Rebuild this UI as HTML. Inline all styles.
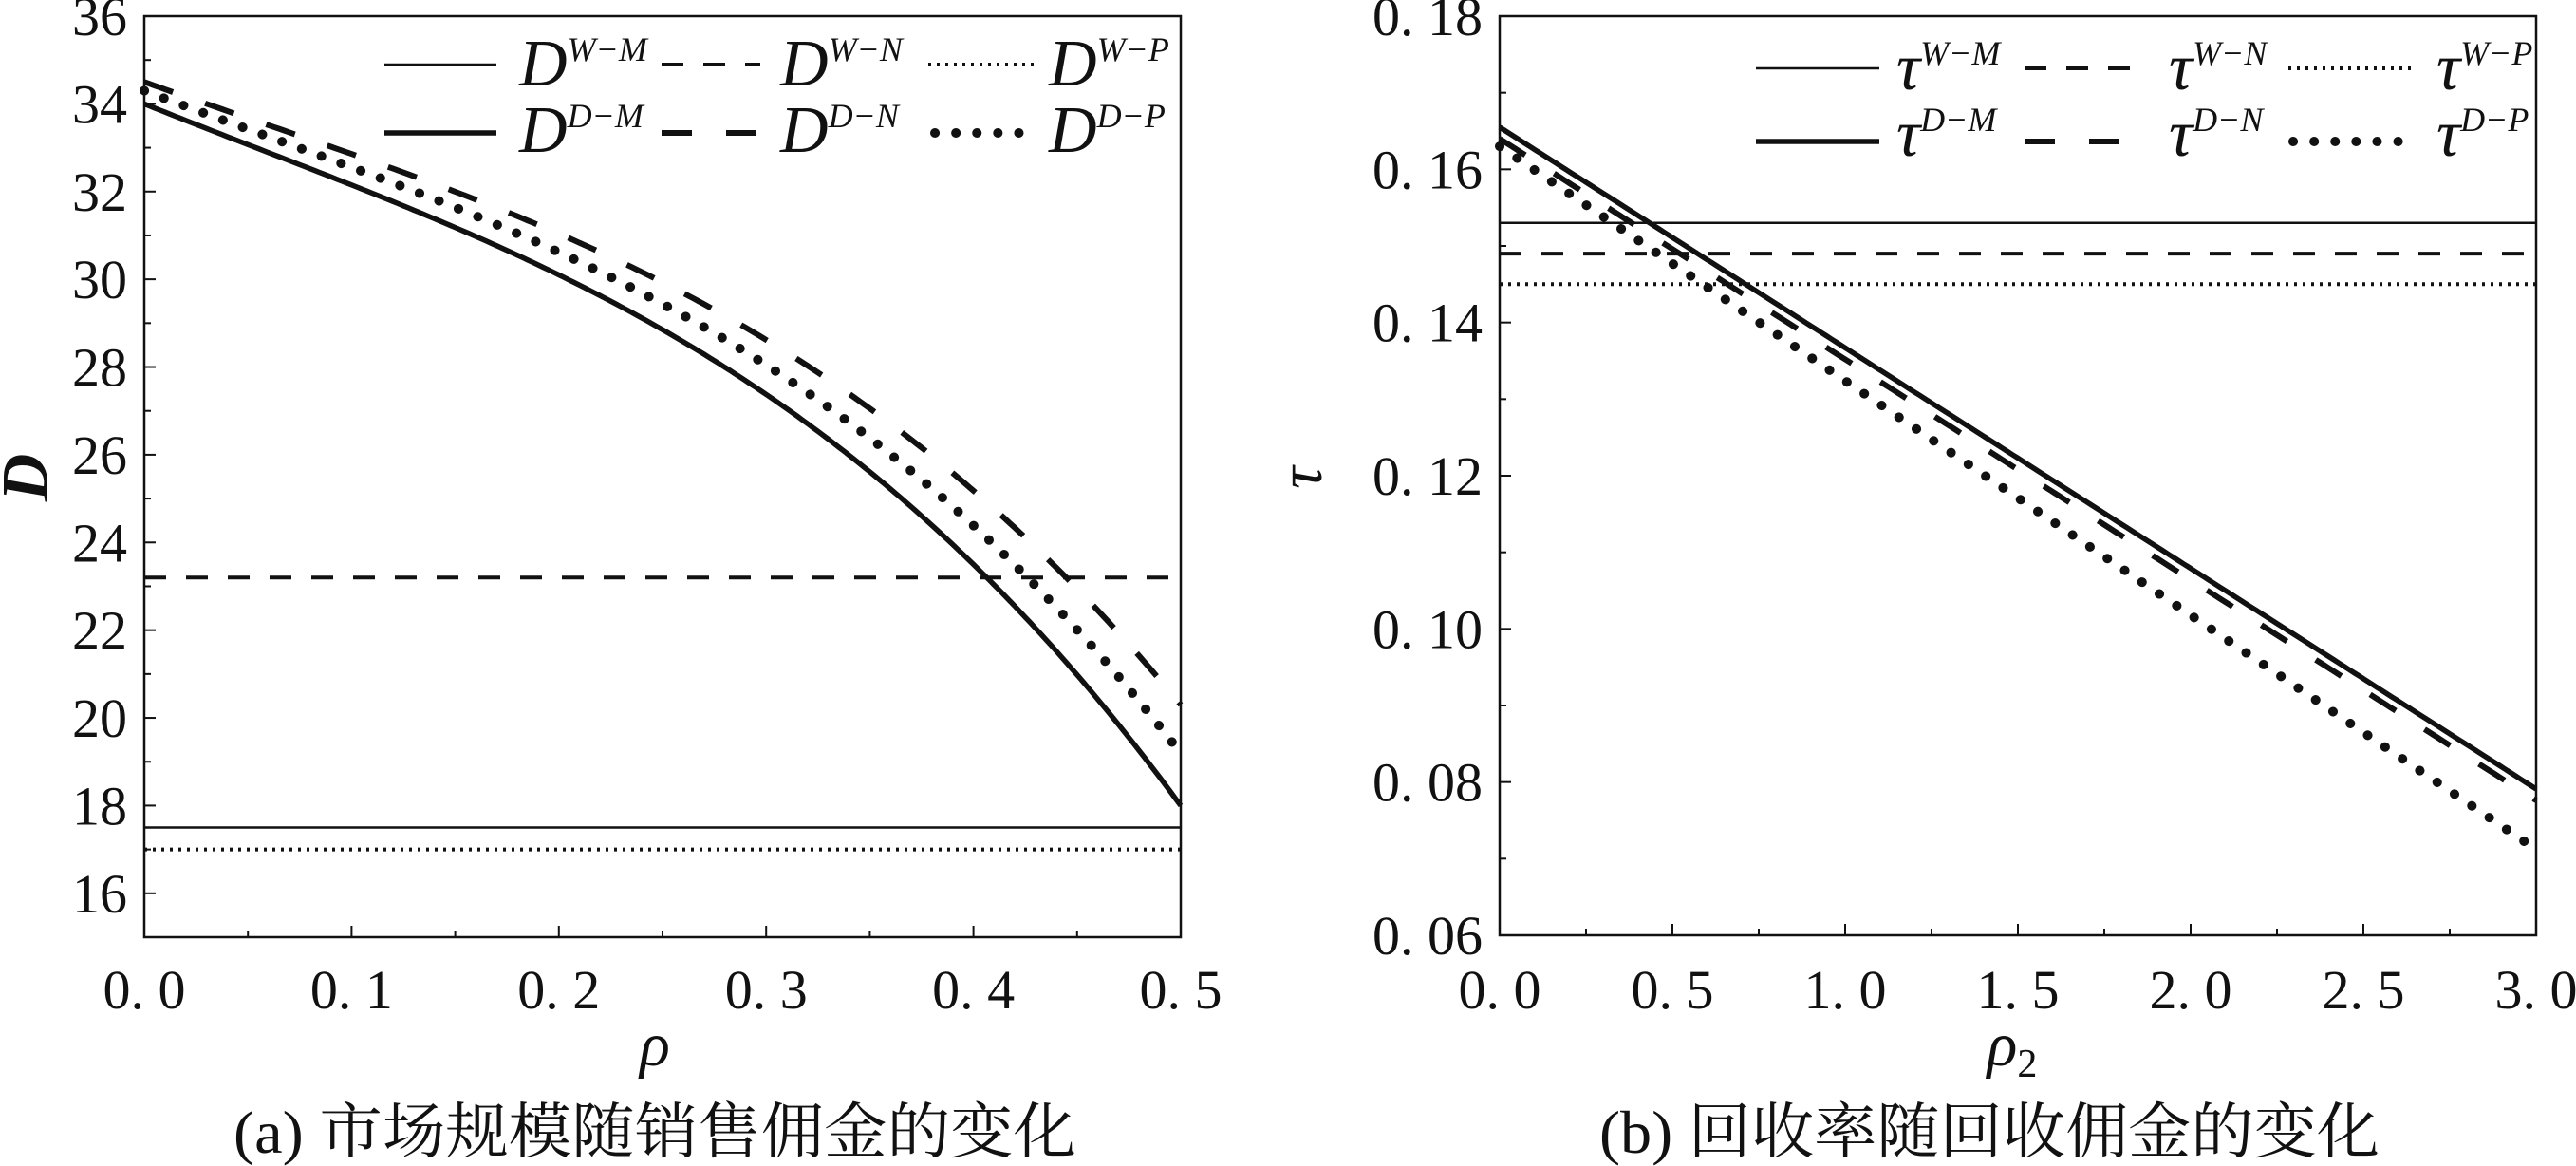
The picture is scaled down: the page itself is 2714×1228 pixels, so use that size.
<!DOCTYPE html>
<html><head><meta charset="utf-8">
<style>
html,body{margin:0;padding:0;background:#fff;}
svg{display:block;}
text{font-family:"Liberation Serif","DejaVu Serif","Noto Serif CJK SC",serif;fill:#111;}
</style></head>
<body>
<svg id="s" width="2714" height="1228" viewBox="0 0 2714 1228" xmlns="http://www.w3.org/2000/svg" font-family="Liberation Serif, Noto Serif CJK SC, serif">
<g id="g"></g>
<text x="0" y="0" font-size="70" font-style="italic" font-weight="bold" font-family="Liberation Serif, serif" transform="translate(50,503) rotate(-90)" text-anchor="middle">D</text>
<text x="690" y="1122" font-size="66" font-style="italic" font-family="Liberation Serif, serif" text-anchor="middle">ρ</text>
<text x="1392" y="503" font-size="66" font-style="italic" font-family="Liberation Serif, serif" text-anchor="middle" transform="rotate(-90,1392,503)">τ</text>
<text x="2120" y="1122" font-size="66" font-style="italic" font-family="Liberation Serif, serif" text-anchor="middle">ρ<tspan font-size="42" font-style="normal" dy="12">2</tspan></text>
<text x="246" y="1214" font-size="64" font-family="Liberation Serif, Noto Serif CJK SC, serif" textLength="888" lengthAdjust="spacingAndGlyphs">(a) 市场规模随销售佣金的变化</text>
<text x="1685" y="1214" font-size="64" font-family="Liberation Serif, Noto Serif CJK SC, serif" textLength="822" lengthAdjust="spacingAndGlyphs">(b) 回收率随回收佣金的变化</text>
</svg>
<script>
var g=document.getElementById('g'),NS='http://www.w3.org/2000/svg';
function el(t,a,txt){var e=document.createElementNS(NS,t);for(var k in a)e.setAttribute(k,a[k]);if(txt!==undefined)e.textContent=txt;g.appendChild(e);return e;}
var styles={
 WM:{stroke:'#111','stroke-width':2.5,fill:'none'},
 WN:{stroke:'#111','stroke-width':4,fill:'none','stroke-dasharray':'23 21'},
 WP:{stroke:'#111','stroke-width':4,fill:'none','stroke-dasharray':'3 6'},
 DM:{stroke:'#111','stroke-width':5.5,fill:'none'},
 DN:{stroke:'#111','stroke-width':6,fill:'none','stroke-dasharray':'32 36'},
 DP:{stroke:'#111','stroke-width':10,fill:'none','stroke-dasharray':'0.1 22','stroke-linecap':'round'}
};
function S(k,extra){var o={};for(var a in styles[k])o[a]=styles[k][a];for(var b in extra)o[b]=extra[b];return o;}
var FF='Liberation Serif, DejaVu Serif, serif';
function panel(P){
  var X=function(v){return P.x0+(v-P.xmin)/(P.xmax-P.xmin)*(P.x1-P.x0);};
  var Y=function(v){return P.y1-(v-P.ymin)/(P.ymax-P.ymin)*(P.y1-P.y0);};
  P.series.forEach(function(s){
    var pts=[];for(var i=0;i<=200;i++){var v=P.xmin+(P.xmax-P.xmin)*i/200;pts.push(X(v).toFixed(1)+','+Y(s.f(v)).toFixed(1));}
    el('polyline',S(s.k,{points:pts.join(' ')}));
  });
  el('rect',{x:P.x0,y:P.y0,width:P.x1-P.x0,height:P.y1-P.y0,fill:'none',stroke:'#111','stroke-width':2.5});
  for(var v=P.ymin;v<=P.ymax+1e-9;v+=P.yminor){
    var y=Y(v);var maj=Math.abs(Math.round(v/P.ymajor)*P.ymajor-v)<1e-9;
    el('line',{x1:P.x0,x2:P.x0+(maj?12:7),y1:y,y2:y,stroke:'#111','stroke-width':2});
  }
  P.ylabels.forEach(function(l){el('text',{x:P.ylx,y:Y(l[0])+20,'font-size':58,'font-family':FF,'text-anchor':'end'},l[1]);});
  for(var v=P.xmin;v<=P.xmax+1e-9;v+=P.xminor){
    var x=X(v);var maj=Math.abs(Math.round(v/P.xmajor)*P.xmajor-v)<1e-9;
    el('line',{x1:x,x2:x,y1:P.y1,y2:P.y1-(maj?12:7),stroke:'#111','stroke-width':2});
  }
  P.xlabels.forEach(function(l){el('text',{x:X(l[0]),y:P.xly,'font-size':58,'font-family':FF,'text-anchor':'middle'},l[1]);});
  P.leg.forEach(function(it){
    el('line',S(it.k,{x1:it.x1,x2:it.x2,y1:it.y,y2:it.y}));
    var t=el('text',{x:it.tx,y:it.ty,'font-size':70,'font-style':'italic','font-family':FF});
    var a=document.createElementNS(NS,'tspan');a.textContent=P.sym;t.appendChild(a);
    var b=document.createElementNS(NS,'tspan');b.setAttribute('font-size','36');b.setAttribute('dy','-26');b.textContent=it.sup;t.appendChild(b);
  });
}
function DMf(r){return 34-19.08*r+13.75*r*r-79.2*r*r*r;}
panel({x0:152,x1:1244,y0:17,y1:987,xmin:0,xmax:0.5,ymin:15,ymax:36,
 yminor:1,ymajor:2,xminor:0.05,xmajor:0.1,ylx:134,xly:1062,sym:'D',
 ylabels:[[16,'16'],[18,'18'],[20,'20'],[22,'22'],[24,'24'],[26,'26'],[28,'28'],[30,'30'],[32,'32'],[34,'34'],[36,'36']],
 xlabels:[[0,'0. 0'],[0.1,'0. 1'],[0.2,'0. 2'],[0.3,'0. 3'],[0.4,'0. 4'],[0.5,'0. 5']],
 series:[
  {k:'WM',f:function(){return 17.5;}},
  {k:'WN',f:function(){return 23.2;}},
  {k:'WP',f:function(){return 17.0;}},
  {k:'DM',f:DMf},
  {k:'DN',f:function(r){return 34.5-0.8875*(34-DMf(r));}},
  {k:'DP',f:function(r){return 34.3-0.944*(34-DMf(r));}}
 ],
 leg:[
  {k:'WM',x1:405,x2:523,y:68,tx:547,ty:90,sup:'W−M'},
  {k:'DM',x1:405,x2:523,y:140,tx:547,ty:160,sup:'D−M'},
  {k:'WN',x1:697,x2:801,y:68,tx:822,ty:90,sup:'W−N'},
  {k:'DN',x1:697,x2:801,y:140,tx:822,ty:160,sup:'D−N'},
  {k:'WP',x1:978,x2:1095,y:68,tx:1105,ty:90,sup:'W−P'},
  {k:'DP',x1:985,x2:1095,y:140,tx:1105,ty:160,sup:'D−P'}
 ]});
panel({x0:1580,x1:2672,y0:17,y1:985,xmin:0,xmax:3,ymin:0.06,ymax:0.18,
 yminor:0.01,ymajor:0.02,xminor:0.25,xmajor:0.5,ylx:1562,xly:1062,sym:'τ',
 ylabels:[[0.06,'0. 06'],[0.08,'0. 08'],[0.10,'0. 10'],[0.12,'0. 12'],[0.14,'0. 14'],[0.16,'0. 16'],[0.18,'0. 18']],
 xlabels:[[0,'0. 0'],[0.5,'0. 5'],[1,'1. 0'],[1.5,'1. 5'],[2,'2. 0'],[2.5,'2. 5'],[3,'3. 0']],
 series:[
  {k:'WM',f:function(){return 0.153;}},
  {k:'WN',f:function(){return 0.149;}},
  {k:'WP',f:function(){return 0.145;}},
  {k:'DM',f:function(r){return 0.1655-0.0288*r;}},
  {k:'DN',f:function(r){return 0.1640-0.0288*r;}},
  {k:'DP',f:function(r){return 0.1630-0.0306*r;}}
 ],
 leg:[
  {k:'WM',x1:1850,x2:1980,y:72,tx:1998,ty:94,sup:'W−M'},
  {k:'DM',x1:1850,x2:1980,y:149,tx:1998,ty:164,sup:'D−M'},
  {k:'WN',x1:2133,x2:2246,y:72,tx:2285,ty:94,sup:'W−N'},
  {k:'DN',x1:2133,x2:2246,y:149,tx:2285,ty:164,sup:'D−N'},
  {k:'WP',x1:2411,x2:2541,y:72,tx:2567,ty:94,sup:'W−P'},
  {k:'DP',x1:2416,x2:2541,y:149,tx:2567,ty:164,sup:'D−P'}
 ]});
</script>
</body></html>
